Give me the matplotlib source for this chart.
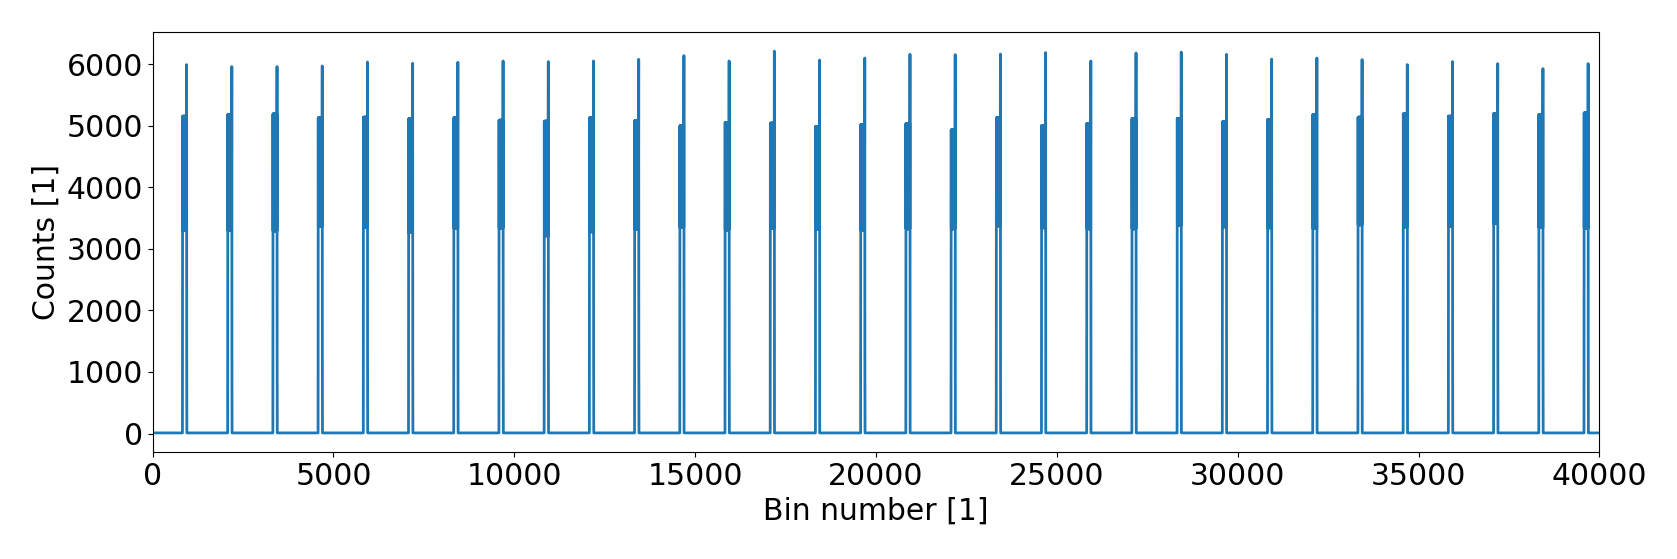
import numpy as np
import matplotlib
matplotlib.use('Agg')
import matplotlib.pyplot as plt

# values, one entry per pulse
spike_bins = [940, 2190, 3440, 4690, 5940, 7190, 8440, 9690, 10940, 12190,
              13440, 14690, 15940, 17190, 18440, 19690, 20940, 22190, 23440, 24690,
              25940, 27190, 28440, 29690, 30940, 32190, 33440, 34690, 35940, 37190,
              38440, 39690]
spike_top = [5990, 5958, 5958, 5968, 6033, 6012, 6028, 6049, 6039, 6049,
             6076, 6136, 6049, 6210, 6065, 6097, 6157, 6152, 6162, 6185,
             6049, 6178, 6194, 6157, 6081, 6097, 6071, 5990, 6039, 6006,
             5925, 6006]
plateau_hi = [5153, 5180, 5190, 5126, 5137, 5110, 5126, 5088, 5072, 5126,
              5083, 4996, 5051, 5040, 4986, 5013, 5035, 4931, 5126, 5002,
              5035, 5116, 5116, 5061, 5100, 5180, 5137, 5190, 5153, 5197,
              5180, 5206]
plateau_lo = [3303, 3303, 3291, 3361, 3345, 3264, 3335, 3335, 3210, 3275,
              3313, 3345, 3307, 3335, 3313, 3296, 3324, 3324, 3372, 3340,
              3324, 3324, 3383, 3356, 3340, 3329, 3389, 3356, 3367, 3410,
              3345, 3335]
baseline = 10
n_bins = 40000

counts = np.full(n_bins, baseline, dtype=float)
for s, top, hi, lo in zip(spike_bins, spike_top, plateau_hi, plateau_lo):
    r = s - 115
    counts[r + 1] = lo * 0.5
    counts[r + 2] = lo
    seg = np.arange(r + 3, s)
    counts[seg] = np.where((seg - r) % 2 == 0, lo, hi)
    counts[s] = top
    counts[s + 1] = hi
    counts[s + 2] = lo
    counts[s + 3] = lo * 0.4
bins = np.arange(n_bins)

plt.rcParams['font.size'] = 21.5
fig = plt.figure(figsize=(16.77, 5.59), dpi=100)
ax = fig.add_axes([0.091, 0.1914, 0.9537 - 0.091, 0.9428 - 0.1914])
ax.plot(bins, counts, color='#1f77b4', linewidth=2)
ax.set_xlim(0, 40000)
ax.set_xlabel('Bin number [1]')
ax.set_ylabel('Counts [1]')
fig.savefig('out.png', dpi=100)
